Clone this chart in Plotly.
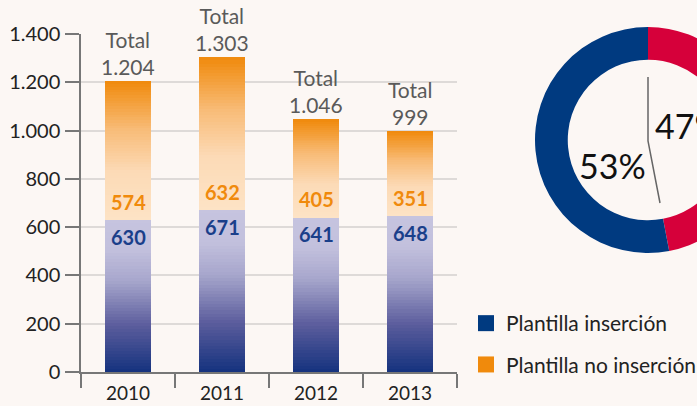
import plotly.graph_objects as go

# ---- data ----
years = ["2010", "2011", "2012", "2013"]
insercion = [630, 671, 641, 648]
no_insercion = [574, 632, 405, 351]
totals = [1204, 1303, 1046, 999]
pie_labels = ["Plantilla no inserción", "Plantilla inserción"]
pie_values = [47, 53]
y_ticks = [0, 200, 400, 600, 800, 1000, 1200, 1400]

# ---- styling ----
W, H = 780, 406
BG = "#fcf7f4"
FONT = "Lato"
blue_stops = [(0.0, "#14327e"), (0.3, "#5a5c9c"), (0.6, "#a7a6cc"), (0.8, "#c2c0dd"), (1.0, "#c6c4df")]
orange_stops = [(0.0, "#fde3c5"), (0.35, "#fcdab6"), (0.65, "#f8bc78"), (1.0, "#f08a0c")]
N = 50


def hex2rgb(h):
    h = h.lstrip("#")
    return tuple(int(h[i:i + 2], 16) for i in (0, 2, 4))


def interp(stops, t):
    for (t0, c0), (t1, c1) in zip(stops[:-1], stops[1:]):
        if t <= t1:
            f = 0 if t1 == t0 else (t - t0) / (t1 - t0)
            a, b = hex2rgb(c0), hex2rgb(c1)
            return "rgb(%d,%d,%d)" % tuple(round(a[i] + (b[i] - a[i]) * f) for i in range(3))
    return stops[-1][1]


def fmt(v):
    return f"{v:,}".replace(",", ".")


def px_x(p):
    return p / W


def px_y(p):
    return (H - p) / H


fig = go.Figure()

# gradient bars: each segment is stacked from N thin slices
for vals, stops in ((insercion, blue_stops), (no_insercion, orange_stops)):
    for k in range(N):
        fig.add_trace(go.Bar(
            x=years, y=[v / N for v in vals],
            marker=dict(color=interp(stops, (k + 0.5) / N), line=dict(width=0)),
            showlegend=False, hoverinfo="skip",
        ))

# legend proxies
fig.add_trace(go.Scatter(x=[None], y=[None], mode="markers", name="Plantilla inserción",
                         marker=dict(symbol="square", size=16, color="#003a80"), legendgroup="a"))
fig.add_trace(go.Scatter(x=[None], y=[None], mode="markers", name="Plantilla no inserción",
                         marker=dict(symbol="square", size=16, color="#f08a0c"), legendgroup="b"))

# donut
fig.add_trace(go.Pie(
    labels=pie_labels, values=pie_values, hole=0.71, sort=False, direction="clockwise",
    rotation=0, marker=dict(colors=["#d6003a", "#003a80"], line=dict(width=0)),
    textinfo="none", showlegend=False, hoverinfo="skip",
    domain=dict(x=[px_x(535), px_x(761)], y=[px_y(253), px_y(27)]),
))

ann = []
for i, (b, o, t) in enumerate(zip(insercion, no_insercion, totals)):
    ann.append(dict(x=i, y=b, xref="x", yref="y", text=f"<b>{fmt(b)}</b>", showarrow=False,
                    yanchor="top", yshift=-3, font=dict(family=FONT, size=20, color="#1a3f8a")))
    ann.append(dict(x=i, y=b, xref="x", yref="y", text=f"<b>{fmt(o)}</b>", showarrow=False,
                    yanchor="bottom", yshift=4, font=dict(family=FONT, size=20, color="#f08a0c")))
    ann.append(dict(x=i, y=t, xref="x", yref="y", text=f"Total<br>{fmt(t)}", showarrow=False,
                    yanchor="bottom", yshift=0, font=dict(family=FONT, size=21, color="#5a5a5a")))

ann.append(dict(x=px_x(612), y=px_y(165), xref="paper", yref="paper", text=f"{pie_values[1]}%",
                showarrow=False, xanchor="center", yanchor="middle",
                font=dict(family=FONT, size=34, color="#111")))
ann.append(dict(x=px_x(653), y=px_y(125), xref="paper", yref="paper", text=f"{pie_values[0]}%",
                showarrow=False, xanchor="left", yanchor="middle",
                font=dict(family=FONT, size=34, color="#111")))

fig.update_layout(
    width=W, height=H, margin=dict(l=0, r=0, t=0, b=0, autoexpand=False),
    paper_bgcolor=BG, plot_bgcolor=BG,
    barmode="stack", bargap=0.51,
    separators=",.",
    font=dict(family=FONT, size=18, color="#222"),
    annotations=ann,
    shapes=[dict(type="path", xref="paper", yref="paper", layer="above",
                 path=f"M {px_x(648)},{px_y(77)} L {px_x(648)},{px_y(141)} L {px_x(660)},{px_y(203)}",
                 line=dict(color="#666", width=1.5))],
    legend=dict(x=px_x(466), y=px_y(303), xanchor="left", yanchor="top",
                font=dict(family=FONT, size=21, color="#222"), tracegroupgap=11,
                bgcolor="rgba(0,0,0,0)", itemclick=False),
    xaxis=dict(domain=[px_x(81), px_x(457)], type="category", range=[-0.5, 3.5], tickson="boundaries",
               ticks="outside", ticklen=14, tickwidth=1.5, tickcolor="#777", automargin=False,
               showline=True, linecolor="#777", linewidth=1.5, showgrid=False, tickangle=0,
               tickfont=dict(family=FONT, size=19, color="#222"), ticklabelstandoff=3),
    yaxis=dict(domain=[px_y(372), px_y(34)], range=[0, 1400], tickvals=y_ticks, tickformat=",",
               ticks="outside", ticklen=14, tickwidth=1.5, tickcolor="#777", automargin=False,
               showline=True, linecolor="#777", linewidth=1.5, zeroline=False,
               showgrid=True, gridcolor="#dedad8", gridwidth=1.5, ticklabelstandoff=1,
               tickfont=dict(family=FONT, size=20, color="#222")),
)

fig.write_html("out.html", config={"displayModeBar": False},
               post_script="document.body.style.overflow='hidden';document.body.style.margin='0';")
